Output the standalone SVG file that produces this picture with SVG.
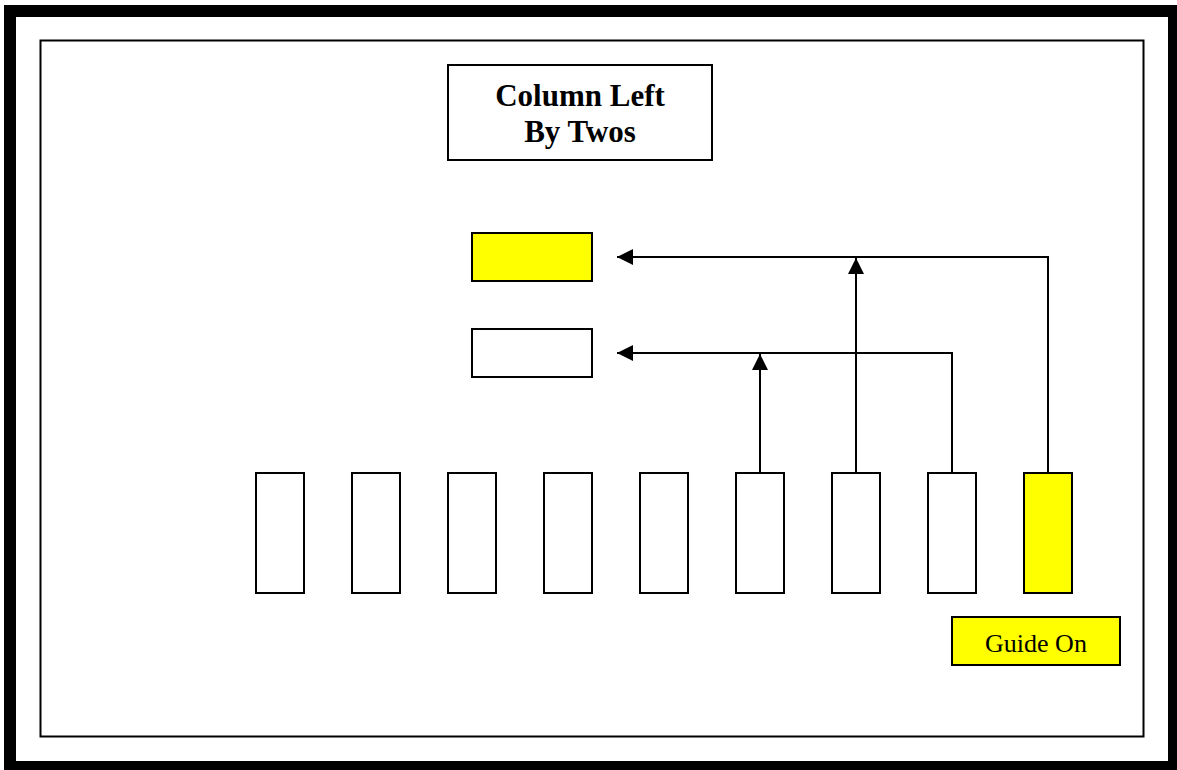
<svg xmlns="http://www.w3.org/2000/svg" width="1177" height="770" viewBox="0 0 1177 770">
<style>
.box{fill:#fff;stroke:#000;stroke-width:2}
.yel{fill:#ffff00;stroke:#000;stroke-width:2}
.ln{fill:none;stroke:#000;stroke-width:2}
.t{font-family:"Liberation Serif","Times New Roman",serif;fill:#000;text-anchor:middle}
</style>
<defs>
<marker id="ah" viewBox="0 0 16 16" refX="16" refY="8" markerWidth="16" markerHeight="16" markerUnits="userSpaceOnUse" orient="auto">
<path d="M0,0 L16,8 L0,16 Z" fill="#000"/>
</marker>
</defs>
<rect x="0" y="0" width="1177" height="770" fill="#fff"/>
<rect x="10" y="11" width="1164" height="756" fill="none" stroke="#000" stroke-width="12"/>
<rect x="40.5" y="40.5" width="1103" height="696" fill="none" stroke="#000" stroke-width="2"/>
<g id="title">
<rect class="box" x="448" y="65" width="264" height="95"/>
<text class="t" x="580" y="106" font-size="31" font-weight="bold">Column Left</text>
<text class="t" x="580" y="142" font-size="31" font-weight="bold">By Twos</text>
</g>
<g id="target1"><rect class="yel" x="472" y="233" width="120" height="48"/></g>
<g id="target2"><rect class="box" x="472" y="329" width="120" height="48"/></g>
<g id="col1"><rect class="box" x="256" y="473" width="48" height="120"/></g>
<g id="col2"><rect class="box" x="352" y="473" width="48" height="120"/></g>
<g id="col3"><rect class="box" x="448" y="473" width="48" height="120"/></g>
<g id="col4"><rect class="box" x="544" y="473" width="48" height="120"/></g>
<g id="col5"><rect class="box" x="640" y="473" width="48" height="120"/></g>
<g id="col6"><rect class="box" x="736" y="473" width="48" height="120"/></g>
<g id="col7"><rect class="box" x="832" y="473" width="48" height="120"/></g>
<g id="col8"><rect class="box" x="928" y="473" width="48" height="120"/></g>
<g id="col9"><rect class="yel" x="1024" y="473" width="48" height="120"/></g>
<g id="guide">
<rect class="yel" x="952" y="617" width="168" height="48"/>
<text class="t" x="1036" y="652" font-size="26">Guide On</text>
</g>
<g id="connectors">
<path class="ln" d="M1048,472 V257 H617" marker-end="url(#ah)"/>
<path class="ln" d="M952,472 V353 H617" marker-end="url(#ah)"/>
<path class="ln" d="M856,472 V258" marker-end="url(#ah)"/>
<path class="ln" d="M760,472 V354" marker-end="url(#ah)"/>
</g>
</svg>
